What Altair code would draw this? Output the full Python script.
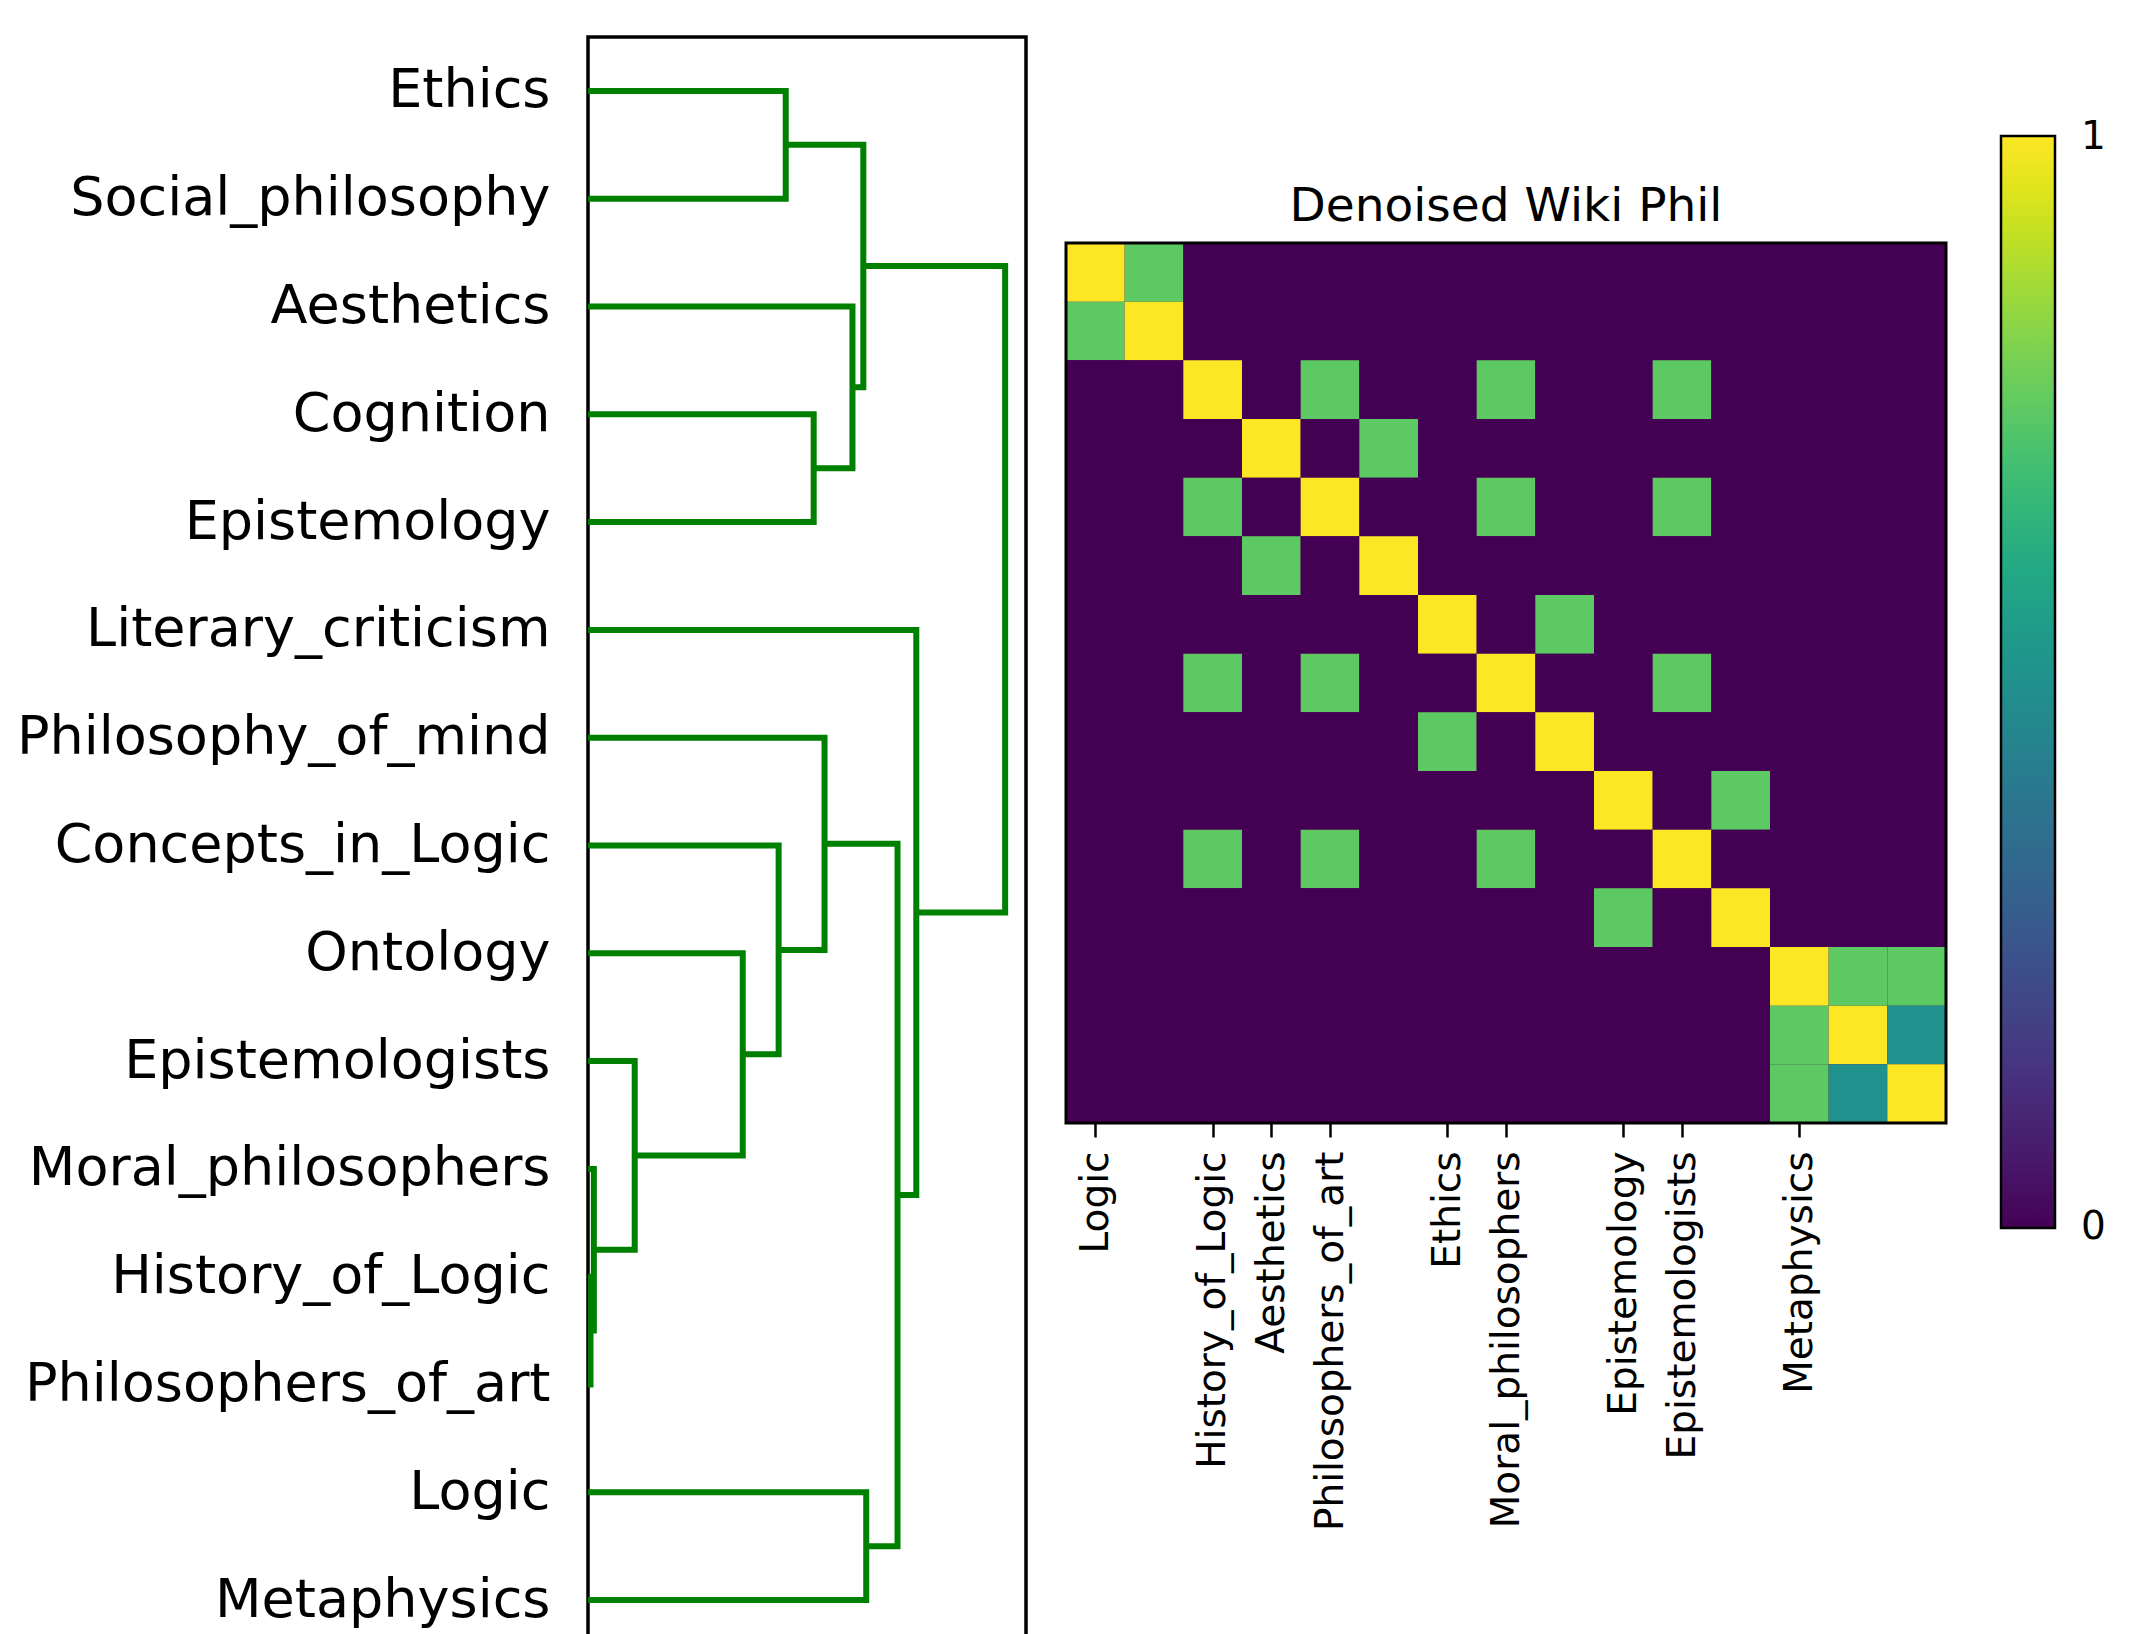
import altair as alt
import pandas as pd

# ---------------- dendrogram data ----------------
leaves = ["Ethics", "Social_philosophy", "Aesthetics", "Cognition", "Epistemology",
          "Literary_criticism", "Philosophy_of_mind", "Concepts_in_Logic", "Ontology",
          "Epistemologists", "Moral_philosophers", "History_of_Logic", "Philosophers_of_art",
          "Logic", "Metaphysics"]

# merge k creates cluster "c{k+1}"
merge_left = ["History_of_Logic", "Moral_philosophers", "Epistemologists", "Ontology",
              "Concepts_in_Logic", "Ethics", "Cognition", "Philosophy_of_mind", "Aesthetics",
              "c6", "Logic", "c8", "Literary_criticism", "c10"]
merge_right = ["Philosophers_of_art", "c1", "c2", "c3", "c4", "Social_philosophy",
               "Epistemology", "c5", "c7", "c9", "Metaphysics", "c11", "c12", "c13"]
merge_height = [0.006, 0.014, 0.112, 0.371, 0.457, 0.474, 0.541, 0.567, 0.634, 0.660,
                0.667, 0.742, 0.787, 1.0]

# ---------------- heatmap data ----------------
heat_rows = [
    [1, .75, 0, 0, 0, 0, 0, 0, 0, 0, 0, 0, 0, 0, 0],
    [.75, 1, 0, 0, 0, 0, 0, 0, 0, 0, 0, 0, 0, 0, 0],
    [0, 0, 1, 0, .75, 0, 0, .75, 0, 0, .75, 0, 0, 0, 0],
    [0, 0, 0, 1, 0, .75, 0, 0, 0, 0, 0, 0, 0, 0, 0],
    [0, 0, .75, 0, 1, 0, 0, .75, 0, 0, .75, 0, 0, 0, 0],
    [0, 0, 0, .75, 0, 1, 0, 0, 0, 0, 0, 0, 0, 0, 0],
    [0, 0, 0, 0, 0, 0, 1, 0, .75, 0, 0, 0, 0, 0, 0],
    [0, 0, .75, 0, .75, 0, 0, 1, 0, 0, .75, 0, 0, 0, 0],
    [0, 0, 0, 0, 0, 0, .75, 0, 1, 0, 0, 0, 0, 0, 0],
    [0, 0, 0, 0, 0, 0, 0, 0, 0, 1, 0, .75, 0, 0, 0],
    [0, 0, .75, 0, .75, 0, 0, .75, 0, 0, 1, 0, 0, 0, 0],
    [0, 0, 0, 0, 0, 0, 0, 0, 0, .75, 0, 1, 0, 0, 0],
    [0, 0, 0, 0, 0, 0, 0, 0, 0, 0, 0, 0, 1, .75, .75],
    [0, 0, 0, 0, 0, 0, 0, 0, 0, 0, 0, 0, .75, 1, .5],
    [0, 0, 0, 0, 0, 0, 0, 0, 0, 0, 0, 0, .75, .5, 1],
]
xtick_index = [0, 2, 3, 4, 6, 7, 9, 10, 12]
xtick_labels = ["Logic", "History_of_Logic", "Aesthetics", "Philosophers_of_art", "Ethics",
                "Moral_philosophers", "Epistemology", "Epistemologists", "Metaphysics"]
title_text = "Denoised Wiki Phil"
# colour-bar labels 0 and 1 (placed a hair inside the ends so they centre on the bar ends)
cbar_ticks = [0.0005, 0.9995]

# ---------------- build tables ----------------
pos = {name: i + 0.5 for i, name in enumerate(leaves)}
hgt = {name: 0.0 for name in leaves}
link_rows = []
for k, (a, b, h) in enumerate(zip(merge_left, merge_right, merge_height)):
    pts = [(hgt[a], pos[a]), (h, pos[a]), (h, pos[b]), (hgt[b], pos[b])]
    for s, (xx, yy) in enumerate(pts):
        link_rows.append({"link": k, "step": s, "x": xx, "y": yy})
    c = f"c{k + 1}"
    pos[c] = (pos[a] + pos[b]) / 2
    hgt[c] = h
link_df = pd.DataFrame(link_rows)

n = len(heat_rows)
heat_df = pd.DataFrame([{"row": r, "col": c, "col2": c + 1, "row2": r + 1, "value": v}
                        for r, vals in enumerate(heat_rows) for c, v in enumerate(vals)])
frame_df = pd.DataFrame({"lo": [0], "hi": [n]})

leaf_expr = "[" + ",".join(f"'{nm}'" for nm in leaves) + "][floor(datum.value)]"
xlab = [""] * n
for i, t in zip(xtick_index, xtick_labels):
    xlab[i] = t
xtick_expr = "[" + ",".join(f"'{nm}'" for nm in xlab) + "][floor(datum.value)]"

FONT = "DejaVu Sans"

dendro = alt.Chart(link_df).mark_line(
    color="#008000", strokeWidth=6, strokeJoin="miter", clip=True
).encode(
    x=alt.X("x:Q", scale=alt.Scale(domain=[0, 1.05], nice=False, zero=False), axis=None),
    y=alt.Y("y:Q", scale=alt.Scale(domain=[0, 15], reverse=True, nice=False, zero=False),
            axis=alt.Axis(values=[i + 0.5 for i in range(len(leaves))], labelExpr=leaf_expr,
                          ticks=False, domain=False, grid=False, labelFontSize=54,
                          labelPadding=38, labelColor="black", title=None, labelFont=FONT,
                          labelLimit=1000)),
    detail="link:N",
    order="step:Q",
).properties(width=438, height=1617)

# heatmap: rows drawn into the lower part of a taller view so that its top sits lower
HEAT_TOP = 206
HEAT_SIZE = 880
xs = alt.Scale(domain=[0, n], nice=False, zero=False)
ys = alt.Scale(domain=[0, n], nice=False, zero=False, range=[HEAT_TOP, HEAT_TOP + HEAT_SIZE])
x_axis = alt.Axis(values=[i + 0.5 for i in xtick_index], labelExpr=xtick_expr,
                  labelAngle=-90, labelFontSize=39, labelFont=FONT, tickSize=14,
                  tickWidth=2.5, tickColor="black", labelPadding=14, domain=False,
                  title=None, labelLimit=1000, labelColor="black", grid=False)

background = alt.Chart(frame_df).mark_rect(fill="#440154", stroke=None).encode(
    x=alt.X("lo:Q", scale=xs, axis=x_axis), x2="hi:Q",
    y=alt.Y("lo:Q", scale=ys, axis=None), y2="hi:Q"
)

cells = alt.Chart(heat_df).mark_rect().encode(
    x=alt.X("col:Q", scale=xs, axis=x_axis),
    x2="col2:Q",
    y=alt.Y("row:Q", scale=ys, axis=None),
    y2="row2:Q",
    color=alt.Color("value:Q", scale=alt.Scale(scheme="viridis", domain=[0, 1]),
                    legend=alt.Legend(orient="none", legendX=1413, legendY=99,
                                      gradientLength=1092, gradientThickness=54,
                                      direction="vertical", values=cbar_ticks, title=None,
                                      format="d", labelFontSize=39, labelFont=FONT,
                                      labelOffset=26, gradientStrokeColor="black",
                                      gradientStrokeWidth=2.5, labelBaseline="middle",
                                      padding=0, labelColor="black")),
)

frame = alt.Chart(frame_df).mark_rect(filled=False, stroke="black", strokeWidth=3).encode(
    x="lo:Q", x2="hi:Q", y="lo:Q", y2="hi:Q"
)

title = alt.Chart(frame_df).mark_text(
    text=title_text, fontSize=47, font=FONT, color="black", baseline="alphabetic",
    align="center", dy=-22
).encode(x=alt.datum(n / 2), y=alt.datum(0))

heat = alt.layer(background, cells, frame, title).properties(
    width=HEAT_SIZE, height=HEAT_TOP + HEAT_SIZE,
    view=alt.ViewBackground(stroke=None),
)

chart = alt.hconcat(dendro, heat, spacing=36).properties(
    padding={"left": 6, "top": 27, "right": 5, "bottom": 5}
).configure_view(stroke="black", strokeWidth=3.5)

chart.save("out.html", embed_options={"renderer": "svg", "actions": False})
